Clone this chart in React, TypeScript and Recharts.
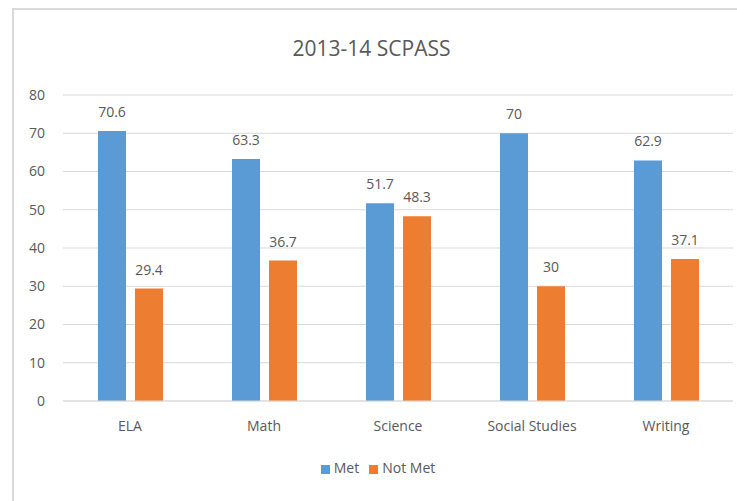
import React from 'react';
import { BarChart, Bar, XAxis, YAxis, CartesianGrid, Legend, LabelList } from 'recharts';

const categories = ['ELA', 'Math', 'Science', 'Social Studies', 'Writing'];
const metValues = [70.6, 63.3, 51.7, 70, 62.9];
const notMetValues = [29.4, 36.7, 48.3, 30, 37.1];
const yTicks = [0, 10, 20, 30, 40, 50, 60, 70, 80];

const data = categories.map((name, i) => ({ name, Met: metValues[i], 'Not Met': notMetValues[i] }));

const FONT = '"Open Sans", "Noto Sans", sans-serif';
const TEXT = '#595959';

export default function App() {
  return (
    <div style={{ position: 'fixed', left: 0, top: 0, width: 737, height: 501, overflow: 'hidden', background: '#fff', fontFamily: FONT }}>
      <div style={{ position: 'absolute', left: 12, top: 8, width: 800, height: 600, borderLeft: '2px solid #d9d9d9', borderTop: '2px solid #d9d9d9' }} />
      <div style={{ position: 'absolute', left: 0, top: 33, width: 737, textAlign: 'center', fontSize: 21, color: TEXT, lineHeight: '30px', paddingLeft: 3 }}>
        2013-14 SCPASS
      </div>
      <div style={{ position: 'absolute', left: 0, top: 0 }}>
        <BarChart width={737} height={501} data={data} margin={{ top: 95, right: 4, bottom: 50, left: 33 }} barSize={28} barGap={9}>
          <CartesianGrid vertical={false} stroke="#d9d9d9" strokeWidth={1} />
          <XAxis dataKey="name" axisLine={{ stroke: '#d9d9d9' }} tickLine={false} tickSize={0} tickMargin={20} height={30}
            tick={{ fill: TEXT, fontSize: 14, fontFamily: FONT }} interval={0} />
          <YAxis width={30} domain={[0, 80]} ticks={yTicks} axisLine={false} tickLine={false} tickSize={0} tickMargin={18}
            tick={{ fill: TEXT, fontSize: 14, fontFamily: FONT }} />
          <Legend iconType="square" iconSize={9} verticalAlign="bottom"
            wrapperStyle={{ position: 'absolute', left: 283, top: 458, width: 200, height: 20, fontSize: 14, fontFamily: FONT }}
            formatter={(v: string) => <span style={{ color: TEXT }}>{v}</span>} />
          <Bar dataKey="Met" fill="#5B9BD5" isAnimationActive={false}>
            <LabelList dataKey="Met" position="top" offset={14} fill={TEXT} fontSize={14} fontFamily={FONT} />
          </Bar>
          <Bar dataKey="Not Met" fill="#ED7D31" isAnimationActive={false}>
            <LabelList dataKey="Not Met" position="top" offset={14} fill={TEXT} fontSize={14} fontFamily={FONT} />
          </Bar>
        </BarChart>
      </div>
    </div>
  );
}
